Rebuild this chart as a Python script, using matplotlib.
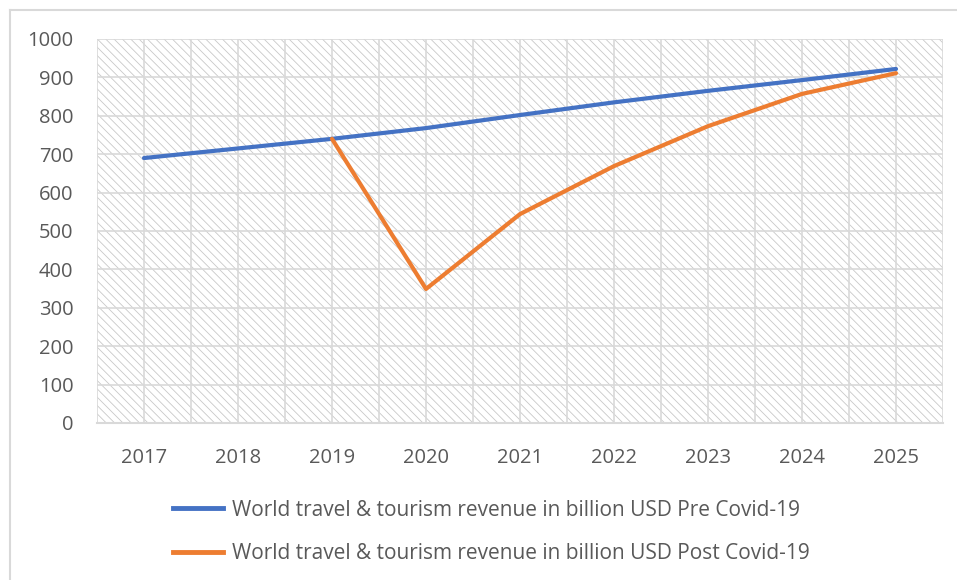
import matplotlib
matplotlib.use("Agg")
import matplotlib.pyplot as plt
from matplotlib.patches import Rectangle
from matplotlib.lines import Line2D

# data
years = [2017, 2018, 2019, 2020, 2021, 2022, 2023, 2024, 2025]
pre_covid = [690, 715, 740, 768, 802, 835, 865, 893, 922]
post_years = [2019, 2020, 2021, 2022, 2023, 2024, 2025]
post_covid = [740, 349, 544, 669, 773, 857, 911]
yticks = [0, 100, 200, 300, 400, 500, 600, 700, 800, 900, 1000]
labels = ["World travel & tourism revenue in billion USD Pre Covid-19",
          "World travel & tourism revenue in billion USD Post Covid-19"]

blue = "#4472c4"
orange = "#ed7d31"
grey_txt = "#595959"
grid_col = "#d9d9d9"

plt.rcParams["font.family"] = ["Open Sans", "DejaVu Sans"]
plt.rcParams["hatch.color"] = "#c8c8c8"
plt.rcParams["hatch.linewidth"] = 0.6

fig = plt.figure(figsize=(9.57, 5.80), dpi=100)
ax = fig.add_axes([97/957, 1 - 423/580, (943-97)/957, (423-39)/580])

# outer chart border (only left/top visible in the picture)
fig.add_artist(Line2D([10/957, 10/957], [0, 1 - 10/580], transform=fig.transFigure,
                      color=grid_col, lw=1.5))
fig.add_artist(Line2D([10/957, 1], [1 - 10/580, 1 - 10/580], transform=fig.transFigure,
                      color=grid_col, lw=1.5))

# hatched plot area
ax.add_patch(Rectangle((0, 0), 1, 1, transform=ax.transAxes, facecolor="white",
                       hatch="\\\\\\\\", edgecolor="#c8c8c8", lw=0, zorder=0))

idx = list(range(len(years)))
post_idx = [years.index(y) for y in post_years]

ax.set_xlim(-0.5, len(years) - 0.5)
ax.set_ylim(0, 1000)

# gridlines
for v in yticks[1:]:
    ax.axhline(v, color=grid_col, lw=1.2, zorder=1)
for k in range(2 * len(years) + 1):
    ax.axvline(-0.5 + k * 0.5, color=grid_col, lw=1.2, zorder=1)

ax.plot(idx, pre_covid, color=blue, lw=3, solid_capstyle="round", zorder=3)
ax.plot(post_idx, post_covid, color=orange, lw=3, solid_capstyle="round", zorder=3)

for s in ["left", "right", "top"]:
    ax.spines[s].set_visible(False)
ax.spines["bottom"].set_color(grid_col)
ax.spines["bottom"].set_linewidth(1.5)

ax.set_xticks(idx)
ax.set_xticklabels([str(y) for y in years])
ax.set_yticks(yticks)
ax.tick_params(length=0, colors=grey_txt, labelsize=14.5)
ax.tick_params(axis="x", pad=18)
ax.tick_params(axis="y", pad=17)

handles = [Line2D([], [], color=blue, lw=3.5), Line2D([], [], color=orange, lw=3.5)]
leg = fig.legend(handles, labels, loc="center left", bbox_to_anchor=(154/957, 1 - 532/580),
                 frameon=False, fontsize=15, labelcolor=grey_txt, handlelength=2.4,
                 handletextpad=0.45, labelspacing=1.1)

fig.savefig("out.png", dpi=100)
